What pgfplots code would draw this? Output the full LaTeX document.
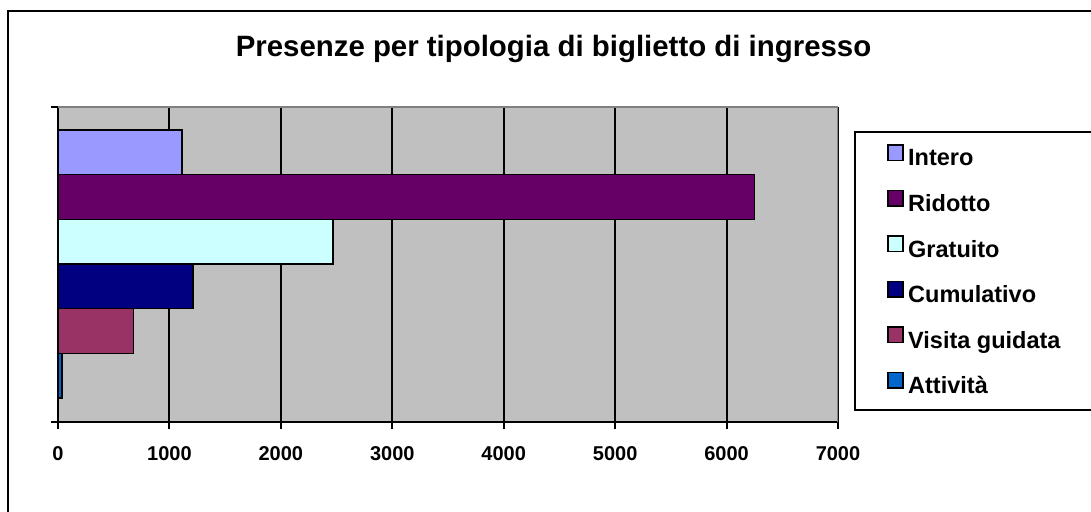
\documentclass[border=0pt]{standalone}
\usepackage{fontspec}
\setmainfont{Liberation Sans}
\usepackage{pgfplots}
\pgfplotsset{compat=1.18}
\definecolor{cIntero}{HTML}{9999FF}
\definecolor{cRidotto}{HTML}{660066}
\definecolor{cGratuito}{HTML}{CCFFFF}
\definecolor{cCumulativo}{HTML}{000080}
\definecolor{cVisita}{HTML}{993366}
\definecolor{cAttivita}{HTML}{0066CC}
\definecolor{bgGray}{HTML}{C0C0C0}
\definecolor{edgeGray}{HTML}{808080}
\begin{document}
\begin{tikzpicture}[x=1pt,y=1pt]
\useasboundingbox (0,0) rectangle (1091,511);
\clip (0,0) rectangle (1091,511);
\fill[white] (0,0) rectangle (1091,511);
\draw[line width=2pt] (8,-10) rectangle (1100,500);
\node[anchor=base, font=\bfseries\fontsize{29.4}{34}\selectfont] at (553.5,454) {Presenze per tipologia di biglietto di ingresso};
\begin{axis}[
  scale only axis, width=780pt, height=315pt,
  at={(0pt,0pt)}, anchor=south west, xshift=58pt, yshift=89pt,
  xbar, bar width=1,
  xmin=0, xmax=7000, ymin=0, ymax=7.05,
  xtick={0,1000,...,7000}, ytick={0,7.05}, yticklabels={},
  xtick pos=bottom, ytick pos=left,
  axis x line*=bottom, axis y line*=left,
  axis line style={-, black, line width=2pt},
  axis background/.style={fill=bgGray},
  xmajorgrids, grid style={black, line width=2pt},
  tick align=outside, major tick length=7pt,
  tick style={black, line width=2pt},
  scaled x ticks=false,
  /pgf/number format/assume math mode=true,
  /pgf/number format/set thousands separator={},
  xticklabel style={font=\bfseries\fontsize{20}{24}\selectfont, yshift=-14pt},
  legend cell align=left,
  legend image code/.code={\draw[#1, line width=1.5pt] (0pt,0pt) rectangle (15pt,15.5pt);},
  legend style={at={(1.0628,0.8826)}, anchor=north west, draw=none, fill=none,
    inner sep=0pt, row sep=18.8pt, column sep=4.5pt,
    font=\bfseries\fontsize{23.5}{27}\selectfont,
    nodes={inner sep=0pt, text height=16pt, text depth=5pt}},
]
\addplot[bar shift=0pt, fill=cIntero, draw=black, line width=1.5pt] coordinates {(1112,6.037)};
\addlegendentry{Intero}
\addplot[bar shift=0pt, fill=cRidotto, draw=black, line width=1.5pt] coordinates {(6250,5.037)};
\addlegendentry{Ridotto}
\addplot[bar shift=0pt, fill=cGratuito, draw=black, line width=1.5pt] coordinates {(2470,4.037)};
\addlegendentry{Gratuito}
\addplot[bar shift=0pt, fill=cCumulativo, draw=black, line width=1.5pt] coordinates {(1210,3.037)};
\addlegendentry{Cumulativo}
\addplot[bar shift=0pt, fill=cVisita, draw=black, line width=1.5pt] coordinates {(677,2.037)};
\addlegendentry{Visita guidata}
\addplot[bar shift=0pt, fill=cAttivita, draw=black, line width=1.5pt] coordinates {(35,1.037)};
\addlegendentry{Attività}
\draw[edgeGray, line width=2pt] (axis description cs:0,1) -- (axis description cs:1,1) -- (axis description cs:1,0);
\end{axis}
\draw[line width=2pt] (855,101) rectangle (1100,379);
\end{tikzpicture}
\end{document}
